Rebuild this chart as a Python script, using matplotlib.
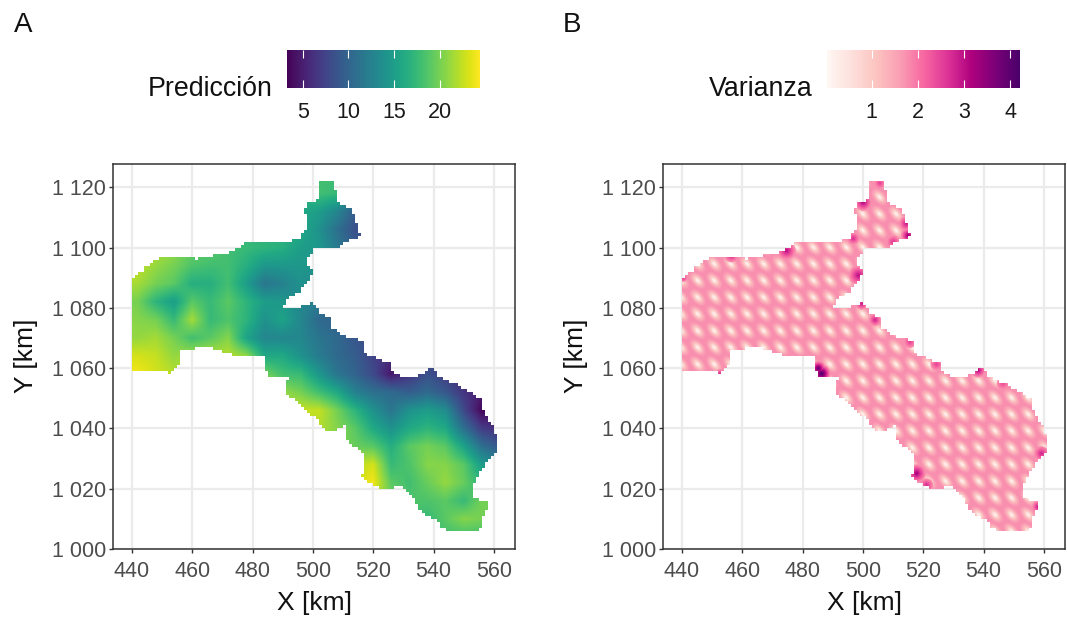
# Kriging maps: prediction and variance
import numpy as np
import matplotlib
matplotlib.use('Agg')
import matplotlib.pyplot as plt
from matplotlib.cm import ScalarMappable
from matplotlib.collections import EllipseCollection
from matplotlib.colors import Normalize
from matplotlib.patches import Polygon

plt.rcParams['font.family'] = ['Liberation Sans', 'DejaVu Sans']

#Data
x_ticks = [440, 460, 480, 500, 520, 540, 560]
y_ticks = [1000, 1020, 1040, 1060, 1080, 1100, 1120]
y_tick_labels = ['1 000', '1 020', '1 040', '1 060', '1 080', '1 100', '1 120']

# outline of the area (km)
borde_x = [502.1, 506.2, 507.3, 508.1, 511.7, 514.3, 514.7, 515.6, 511.7, 508.7, 500.7, 499.6, 497.9, 497.3, 500.7,
           498.5, 495.7, 491.3, 490.5, 494.6, 499.6, 501.2, 502.3, 505.9, 505.9, 511.2, 516.7, 517.2, 525.5, 526.1,
           528.8, 534.9, 536.6, 538.8, 543.2, 547.6, 552.0, 555.9, 556.7, 559.2, 560.9, 560.9, 558.1, 554.8, 553.7,
           552.6, 558.1, 558.1, 555.9, 555.4, 546.5, 543.2, 541.0, 536.0, 533.8, 528.3, 526.6, 521.1, 516.5, 516.7,
           511.2, 510.6, 505.4, 502.3, 500.1, 495.7, 491.3, 491.5, 485.7, 484.4, 484.4, 476.4, 471.4, 465.9, 455.9,
           456.5, 453.1, 450.9, 440.4, 439.7, 439.7, 442.7, 448.7, 459.8, 460.9, 472.5, 477.5, 480.2, 489.1, 495.1,
           498.5, 497.3, 497.7, 501.4]
borde_y = [1122.1, 1122.1, 1119.6, 1114.6, 1112.6, 1110.2, 1105.7, 1103.8, 1102.4, 1100.4, 1100.4, 1098.0, 1095.8,
           1093.8, 1092.8, 1088.6, 1085.3, 1082.8, 1080.3, 1079.8, 1082.0, 1080.3, 1078.1, 1076.1, 1073.1, 1070.4,
           1069.0, 1064.9, 1061.3, 1058.8, 1056.9, 1056.9, 1059.3, 1059.6, 1056.0, 1054.7, 1051.6, 1048.8, 1045.0,
           1040.6, 1036.1, 1032.3, 1028.9, 1024.5, 1022.9, 1017.3, 1015.7, 1012.9, 1010.2, 1005.7, 1005.5, 1007.4,
           1010.2, 1011.8, 1017.3, 1022.3, 1019.8, 1020.7, 1025.1, 1031.7, 1037.2, 1040.6, 1038.1, 1041.7, 1044.4,
           1047.7, 1052.2, 1056.9, 1057.1, 1059.9, 1064.3, 1063.8, 1064.9, 1067.1, 1065.7, 1062.1, 1058.2, 1059.3,
           1059.3, 1061.5, 1089.7, 1092.5, 1096.9, 1097.5, 1096.4, 1098.6, 1102.4, 1102.4, 1102.1, 1103.0, 1107.4,
           1111.8, 1115.1, 1115.1]

# prediction read on a 6 km grid, x 436..562, y 1124 down to 1004
prediccion = [
    [21, 21, 20, 19, 18, 18, 18, 17, 17, 17, 17, 18, 18, 13, 12, 12, 12, 11, 10, 9, 8, 8],
    [21, 21, 20, 19, 18, 18, 18, 17, 17, 17, 17, 18, 17.5, 12, 12, 12, 12, 11, 10, 9, 8, 8],
    [21, 21, 20, 19, 18, 18, 18, 17, 17, 17, 16, 15, 13, 9.5, 9, 10, 11, 11, 10, 9, 8, 8],
    [21, 21, 20, 19, 18, 18, 18, 17, 17, 17, 16, 14, 11, 8.5, 8, 9, 10, 10, 10, 9, 8, 8],
    [23, 23, 22, 21, 19.5, 19, 18, 17.5, 17, 16.5, 15, 14.5, 12, 9.5, 9, 9, 10, 10, 10, 9, 8, 8],
    [23, 22.5, 21, 20, 18.5, 18, 18, 16.5, 14.5, 14.5, 14.5, 14, 12, 10, 9, 9, 10, 10, 9, 9, 8, 8],
    [22, 21.5, 20, 19, 16.5, 16.5, 18, 15, 11.5, 12.5, 14, 13, 12, 10, 9, 9, 9, 9, 9, 8, 8, 8],
    [20, 20, 17, 15, 19, 17.5, 19, 17, 15, 14.5, 13, 12, 11, 10, 9, 9, 9, 9, 8, 8, 8, 8],
    [21, 20.5, 20, 17.5, 21.5, 17.5, 18.5, 17, 14, 15.5, 13, 10.5, 10, 9.5, 9, 8, 8, 8, 8, 8, 8, 8],
    [21, 21, 21.5, 20, 18, 19, 20.5, 15.5, 13, 13, 13, 11.5, 10.5, 9, 8, 8, 8, 8, 8, 8, 8, 8],
    [23, 23, 22.5, 21, 21.5, 22, 22, 21, 16, 16, 14, 12, 10.5, 9.5, 7.5, 6, 7, 8, 8, 8, 8, 8],
    [24, 24, 23, 22, 22, 22, 22, 22, 20, 18, 17.5, 14.5, 11.5, 10, 8, 4.5, 6.5, 8.5, 7, 6, 6, 6],
    [24, 24, 23, 22, 22, 22, 22, 22, 22, 21, 20, 18, 16, 12.5, 11, 10.5, 9.5, 10.5, 9, 6.5, 5, 5],
    [24, 24, 23, 22, 22, 22, 22, 22, 22, 22, 22.5, 22.5, 20, 17, 14, 11.5, 14, 15, 13.5, 8, 3.5, 4],
    [24, 24, 23, 22, 22, 22, 22, 22, 22, 22, 22, 22, 20.5, 19, 16, 14, 16, 17, 16, 11, 7, 6],
    [24, 24, 23, 22, 22, 22, 22, 22, 22, 22, 22, 22, 20.5, 19.5, 19, 16.5, 19, 20, 19, 15.5, 11, 9],
    [24, 24, 23, 22, 22, 22, 22, 22, 22, 22, 22, 22, 22, 22, 23, 17.5, 18.5, 20.5, 20.5, 19, 15, 13],
    [24, 24, 23, 22, 22, 22, 22, 22, 22, 22, 22, 22, 22, 23, 24, 19, 18, 19.5, 21, 19.5, 17, 15],
    [24, 24, 23, 22, 22, 22, 22, 22, 22, 22, 22, 22, 22, 23, 22, 20, 18.5, 18.5, 19, 17.5, 20, 20],
    [24, 24, 23, 22, 22, 22, 22, 22, 22, 22, 22, 22, 22, 22, 21, 20, 18, 17.5, 19, 20.5, 20, 19],
    [24, 24, 23, 22, 22, 22, 22, 22, 22, 22, 22, 22, 22, 22, 21, 20, 18, 18, 18, 18, 18, 18],
]

# sampling lattice seen in the variance map (km)
muestra_x = [439.7, 445.2, 450.7, 456.2, 461.6, 467.1, 472.6, 478.1, 483.6, 489.0, 494.5, 500.0, 505.5, 511.0,
             516.4, 521.9, 527.4, 532.9, 538.4, 543.8, 549.3, 554.8, 560.3]
muestra_y = [1122.3, 1116.8, 1111.2, 1105.7, 1100.1, 1094.6, 1089.1, 1083.5, 1078.0, 1072.4, 1066.9, 1061.3,
             1055.8, 1050.2, 1044.7, 1039.2, 1033.6, 1028.1, 1022.5, 1017.0, 1011.4, 1005.9]
varianza_fondo = 1.75
varianza_niveles = [1.68, 1.6, 1.5, 1.38, 1.22, 1.05, 0.85, 0.6, 0.35, 0.15]

# high variance patches along the edge: x, y, value, radius
alto_x = [486.3, 485.2, 498.5, 515.0, 514.4, 510.1, 500.1, 505.6, 474.7, 456.4, 517.8, 521.1, 538.2, 558.1, 559.2,
          499.6, 504.0, 452.6, 440.4, 515.6, 524.4, 546.4, 496.8]
alto_y = [1058.2, 1059.9, 1090.8, 1104.0, 1108.0, 1101.9, 1115.0, 1121.4, 1099.0, 1097.5, 1025.1, 1021.2, 1059.3,
          1014.0, 1031.7, 1081.4, 1076.0, 1058.0, 1090.0, 1068.7, 1061.3, 1054.9, 1103.0]
alto_v = [4.1, 3.8, 3.0, 3.3, 2.9, 2.6, 3.1, 2.5, 3.0, 2.8, 3.2, 2.7, 3.1, 2.9, 2.8, 2.9, 2.8, 2.8, 2.6, 2.5, 2.5,
          2.4, 2.7]
alto_r = [3.0, 2.5, 3.2, 2.4, 2.4, 2.2, 2.8, 1.8, 3.0, 2.4, 3.0, 2.2, 2.4, 2.0, 2.4, 2.0, 2.0, 1.6, 1.4, 2.0, 2.0,
          2.0, 2.0]

norm_pred = Normalize(3.25, 24.37)
norm_var = Normalize(0.03, 4.21)


# the map is a 1 km raster, so the outline goes in steps
def escalera(xs, ys):
    px, py = [], []
    for i in range(len(xs)):
        j = (i + 1) % len(xs)
        dx, dy = xs[j] - xs[i], ys[j] - ys[i]
        n = int(max(abs(dx), abs(dy))) + 1
        for k in range(n):
            gx, gy = round(xs[i] + dx * k / n), round(ys[i] + dy * k / n)
            if px:
                px.append(gx)
                py.append(py[-1])
            px.append(gx)
            py.append(gy)
    return np.column_stack([px, py])


def panel(left):
    ax = fig.add_axes([left / 1067, 1 - 549 / 618, 401.7 / 1067, 385.5 / 618])
    ax.set_xlim(433.8, 567)
    ax.set_ylim(1000, 1127.9)
    ax.set_xticks(x_ticks)
    ax.set_yticks(y_ticks)
    ax.set_yticklabels(y_tick_labels)
    ax.tick_params(labelsize=15.5, labelcolor='#4D4D4D', color='#333333', length=3, width=1)
    ax.tick_params(axis='x', pad=5.5)
    ax.tick_params(axis='y', pad=2)
    ax.grid(True, color='#EBEBEB', linewidth=1.6)
    ax.set_axisbelow(True)
    for s in ax.spines.values():
        s.set_color('#333333')
        s.set_linewidth(1.1)
    ax.set_xlabel('X [km]', fontsize=19, color='#111111', labelpad=6.5)
    ax.set_ylabel('Y [km]', fontsize=19, color='#111111', labelpad=10.5)
    return ax


def leyenda(left, width, cmap, norm, ticks, title):
    cax = fig.add_axes([left / 1067, 1 - 88.3 / 618, width / 1067, 38.6 / 618])
    cb = fig.colorbar(ScalarMappable(norm=norm, cmap=cmap), cax=cax, orientation='horizontal')
    cb.set_ticks(ticks)
    cb.outline.set_visible(False)
    cax.tick_params(direction='in', color='white', length=5.5, width=0.8, top=True, labelsize=15.5,
                    labelcolor='#1A1A1A', pad=10)
    fig.text((left - 14) / 1067, 1 - 88.5 / 618, title, ha='right', va='center', fontsize=19.3, color='#111111')


fig = plt.figure(figsize=(10.67, 6.18), dpi=100)
contorno = escalera(borde_x, borde_y)

#Panel A
ax1 = panel(113.3)
clip1 = Polygon(contorno, closed=True, facecolor='none', edgecolor='none')
ax1.add_patch(clip1)
im = ax1.imshow(prediccion, extent=(433, 565, 1001, 1127), aspect='auto', cmap='viridis', norm=norm_pred,
                interpolation='bilinear', zorder=2)
im.set_clip_path(clip1)
ax1.set_xlim(433.8, 567)
ax1.set_ylim(1000, 1127.9)

#Panel B
ax2 = panel(663.3)
ax2.add_patch(Polygon(contorno, closed=True, edgecolor='none', facecolor=plt.get_cmap('RdPu')(norm_var(varianza_fondo)),
                      zorder=2))
clip2 = Polygon(contorno, closed=True, facecolor='none', edgecolor='none')
ax2.add_patch(clip2)

# nested ellipses, largest first, around each sample
mx, my = np.meshgrid(muestra_x, muestra_y)
puntos = np.column_stack([mx.ravel(), my.ravel()])
for i, v in enumerate(varianza_niveles):
    f = 1 - i / len(varianza_niveles)
    capa = EllipseCollection(np.full(len(puntos), 6.8 * f), np.full(len(puntos), 3.9 * f), np.full(len(puntos), -48.0),
                             units='xy', offsets=puntos, offset_transform=ax2.transData,
                             array=np.full(len(puntos), v), cmap='RdPu', norm=norm_var, edgecolors='none',
                             zorder=3 + i * 0.01)
    ax2.add_collection(capa)
    capa.set_clip_path(clip2)

# edge patches fading into the background
alto = np.column_stack([alto_x, alto_y])
for i, f in enumerate(np.linspace(1, 0.1, 10)):
    diam = 2 * np.array(alto_r) * f
    vals = varianza_fondo + (np.array(alto_v) - varianza_fondo) * (1 - f) / 0.9
    capa = EllipseCollection(diam, diam, np.zeros(len(diam)), units='xy', offsets=alto,
                             offset_transform=ax2.transData, array=vals, cmap='RdPu', norm=norm_var,
                             edgecolors='none', zorder=4 + i * 0.01)
    ax2.add_collection(capa)
    capa.set_clip_path(clip2)

#Legends and panel letters
leyenda(286.7, 193.3, 'viridis', norm_pred, [5, 10, 15, 20], 'Predicción')
leyenda(827, 193, 'RdPu', norm_var, [1, 2, 3, 4], 'Varianza')
fig.text(14 / 1067, 1 - 32 / 618, 'A', fontsize=20, color='#111111')
fig.text(563 / 1067, 1 - 32 / 618, 'B', fontsize=20, color='#111111')

plt.savefig('out.png', dpi=100)
